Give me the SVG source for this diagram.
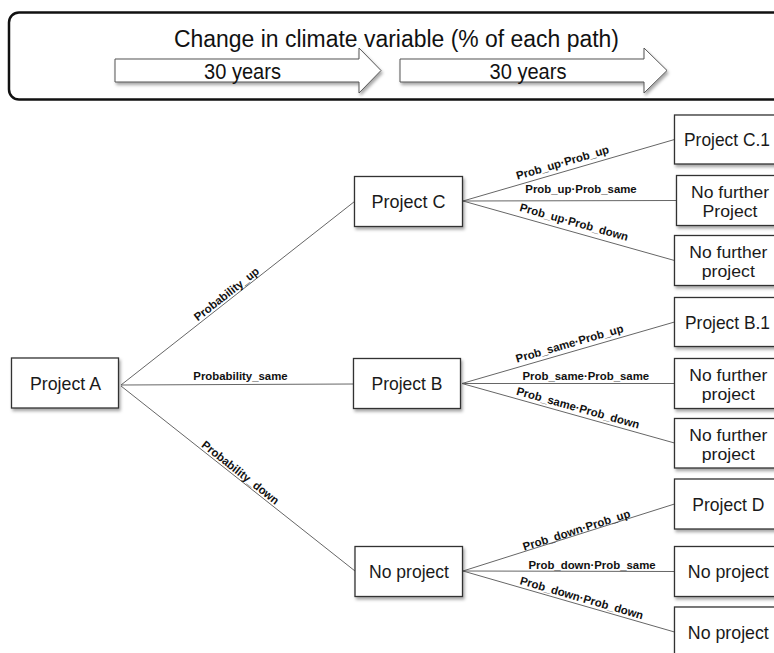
<svg xmlns="http://www.w3.org/2000/svg" width="774" height="653" viewBox="0 0 774 653">
<defs>
<filter id="sh" x="-10%" y="-10%" width="130%" height="140%">
<feDropShadow dx="1.5" dy="2.5" stdDeviation="1.5" flood-color="#000" flood-opacity="0.35"/>
</filter>
<style>
.box{fill:#fff;stroke:#333;stroke-width:1.3;filter:url(#sh)}
.nt{font-family:"Liberation Sans",Arial,sans-serif;font-size:18.5px;fill:#1a1a1a;text-anchor:middle}
.nt2{font-family:"Liberation Sans",Arial,sans-serif;font-size:17px;fill:#1a1a1a;text-anchor:middle}
.lb{font-family:"Liberation Sans",Arial,sans-serif;font-size:11.4px;font-weight:bold;fill:#111;text-anchor:middle}
.ln{stroke:#666;stroke-width:1;fill:none}
.arr{fill:#fff;stroke:#555;stroke-width:1;filter:url(#sh)}
.hd{font-family:"Liberation Sans",Arial,sans-serif;fill:#111;text-anchor:middle}
</style>
</defs>
<rect width="774" height="653" fill="#fff"/>

<g id="banner">
<rect x="9" y="12.5" width="800" height="87" rx="10" ry="10" fill="#fff" stroke="#111" stroke-width="2.5"/>
<text class="hd" x="396.5" y="47" font-size="23" textLength="445" lengthAdjust="spacingAndGlyphs">Change in climate variable (% of each path)</text>
<polygon class="arr" points="115,59 359,59 359,48 381,70.5 359,93 359,82 115,82"/>
<polygon class="arr" points="400,59 644,59 644,48 667,70.5 644,93 644,82 400,82"/>
<text class="hd" x="242.5" y="79" font-size="22" textLength="77" lengthAdjust="spacingAndGlyphs">30 years</text>
<text class="hd" x="528" y="79" font-size="22" textLength="77" lengthAdjust="spacingAndGlyphs">30 years</text>
</g>

<g id="connectors">
<line class="ln" x1="121" y1="385" x2="354.5" y2="201.5"/>
<line class="ln" x1="121" y1="385" x2="353.5" y2="384"/>
<line class="ln" x1="121" y1="386" x2="355" y2="571"/>
<line class="ln" x1="463" y1="201" x2="674.5" y2="139.5"/>
<line class="ln" x1="463" y1="201" x2="676.5" y2="200.5"/>
<line class="ln" x1="463" y1="201" x2="674.5" y2="260.5"/>
<line class="ln" x1="462" y1="383.5" x2="674.5" y2="322"/>
<line class="ln" x1="462" y1="383.5" x2="674.5" y2="383.5"/>
<line class="ln" x1="462" y1="383.5" x2="674.5" y2="443"/>
<line class="ln" x1="463" y1="571" x2="674.5" y2="504"/>
<line class="ln" x1="463" y1="571" x2="674.5" y2="571.5"/>
<line class="ln" x1="463" y1="571" x2="674.5" y2="632"/>
<text class="lb" transform="translate(226.5,294) rotate(-38.16)" y="4">Probability_up</text>
<text class="lb" transform="translate(240.5,375.5)" y="4">Probability_same</text>
<text class="lb" transform="translate(240.5,472.5) rotate(38.33)" y="4">Probability_down</text>
<text class="lb" transform="translate(562.5,162.5) rotate(-16.29)" y="4">Prob_up·Prob_up</text>
<text class="lb" transform="translate(581,188.5)" y="4">Prob_up·Prob_same</text>
<text class="lb" transform="translate(574,222) rotate(15.59)" y="4">Prob_up·Prob_down</text>
<text class="lb" transform="translate(569.5,343.4) rotate(-16.14)" y="4">Prob_same·Prob_up</text>
<text class="lb" transform="translate(585.8,375.5)" y="4">Prob_same·Prob_same</text>
<text class="lb" transform="translate(578,407.7) rotate(15.64)" y="4">Prob_same·Prob_down</text>
<text class="lb" transform="translate(576.5,530) rotate(-17.58)" y="4">Prob_down·Prob_up</text>
<text class="lb" transform="translate(592,564.8)" y="4">Prob_down·Prob_same</text>
<text class="lb" transform="translate(581.7,597.8) rotate(16.09)" y="4">Prob_down·Prob_down</text>
</g>

<g id="projectA">
<rect class="box" x="11.5" y="358" width="107" height="50"/>
<text class="nt" x="65.5" y="389.5" textLength="71" lengthAdjust="spacingAndGlyphs">Project A</text>
</g>
<g id="projectC">
<rect class="box" x="354.5" y="176.5" width="108" height="50"/>
<text class="nt" x="408.5" y="208" textLength="74" lengthAdjust="spacingAndGlyphs">Project C</text>
</g>
<g id="projectB">
<rect class="box" x="353.5" y="358.5" width="107" height="50"/>
<text class="nt" x="407" y="390" textLength="71" lengthAdjust="spacingAndGlyphs">Project B</text>
</g>
<g id="noProject">
<rect class="box" x="355" y="546.5" width="107.5" height="50"/>
<text class="nt" x="409" y="578" textLength="80" lengthAdjust="spacingAndGlyphs">No project</text>
</g>

<g id="projectC1">
<rect class="box" x="674.5" y="115" width="110" height="49"/>
<text class="nt" x="727" y="146" textLength="86" lengthAdjust="spacingAndGlyphs">Project C.1</text>
</g>
<g id="noFurtherC2">
<rect class="box" x="676.5" y="175.5" width="110" height="50"/>
<text class="nt2" x="730" y="197.5" textLength="78" lengthAdjust="spacingAndGlyphs">No further</text>
<text class="nt2" x="730" y="217" textLength="55" lengthAdjust="spacingAndGlyphs">Project</text>
</g>
<g id="noFurtherC3">
<rect class="box" x="674.5" y="235.5" width="110" height="50"/>
<text class="nt2" x="728.3" y="257.5" textLength="78" lengthAdjust="spacingAndGlyphs">No further</text>
<text class="nt2" x="728.3" y="277" textLength="53" lengthAdjust="spacingAndGlyphs">project</text>
</g>
<g id="projectB1">
<rect class="box" x="674.5" y="297.5" width="110" height="49"/>
<text class="nt" x="727.5" y="328.5" textLength="85" lengthAdjust="spacingAndGlyphs">Project B.1</text>
</g>
<g id="noFurtherB2">
<rect class="box" x="674.5" y="358.5" width="110" height="50"/>
<text class="nt2" x="728.3" y="380.5" textLength="78" lengthAdjust="spacingAndGlyphs">No further</text>
<text class="nt2" x="728.3" y="400" textLength="53" lengthAdjust="spacingAndGlyphs">project</text>
</g>
<g id="noFurtherB3">
<rect class="box" x="674.5" y="418.5" width="110" height="49.5"/>
<text class="nt2" x="728.3" y="440.5" textLength="78" lengthAdjust="spacingAndGlyphs">No further</text>
<text class="nt2" x="728.3" y="460" textLength="53" lengthAdjust="spacingAndGlyphs">project</text>
</g>
<g id="projectD">
<rect class="box" x="674.5" y="479" width="110" height="50"/>
<text class="nt" x="728.3" y="510.5" textLength="72" lengthAdjust="spacingAndGlyphs">Project D</text>
</g>
<g id="noProject2">
<rect class="box" x="674.5" y="546.5" width="110" height="50"/>
<text class="nt" x="728.3" y="578" textLength="81" lengthAdjust="spacingAndGlyphs">No project</text>
</g>
<g id="noProject3">
<rect class="box" x="674.5" y="607" width="110" height="60"/>
<text class="nt" x="728.3" y="638.5" textLength="81" lengthAdjust="spacingAndGlyphs">No project</text>
</g>
</svg>
